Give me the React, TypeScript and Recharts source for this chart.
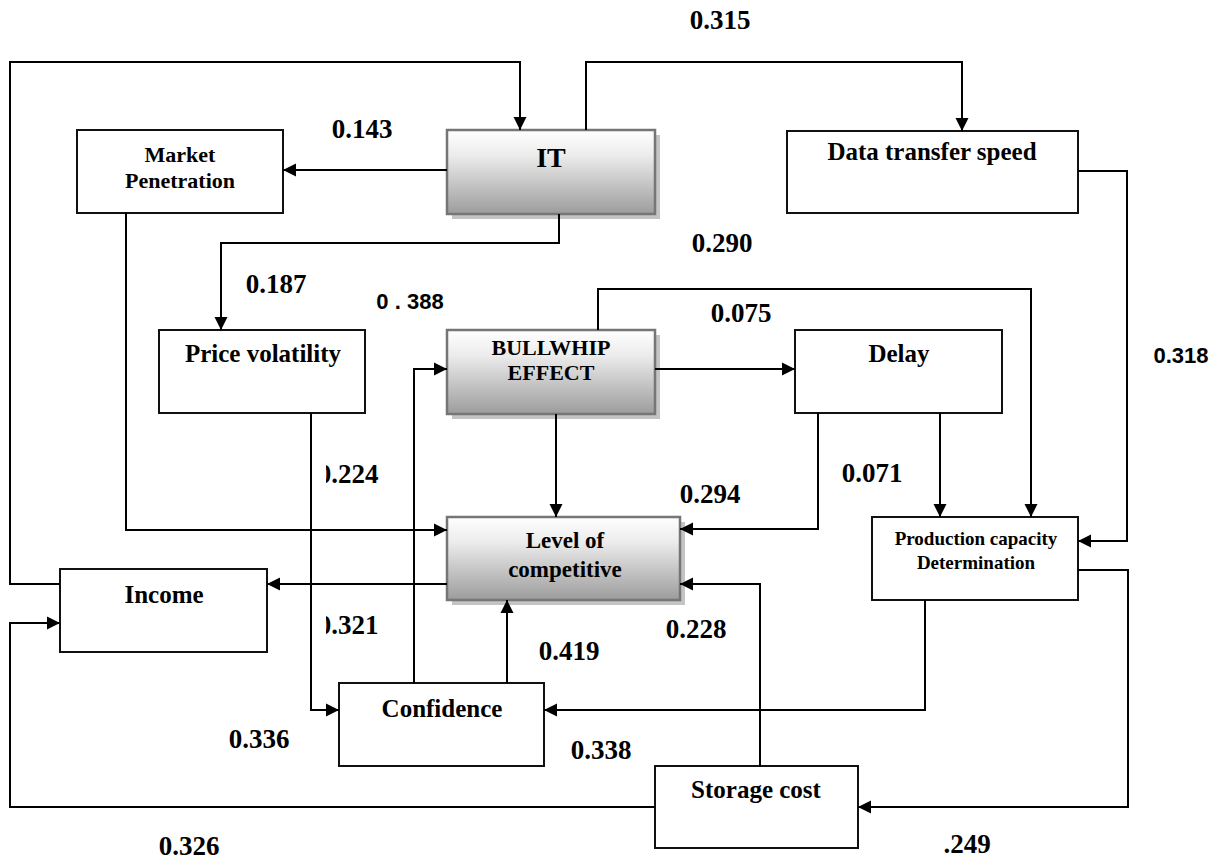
import React from "react";
import { ScatterChart, Scatter, XAxis, YAxis, ReferenceArea } from "recharts";

const W = 1223;
const H = 861;

// ---- data ----
const nodes = [
  "IT",
  "Market Penetration",
  "Data transfer speed",
  "Price volatility",
  "BULLWHIP EFFECT",
  "Delay",
  "Level of competitive",
  "Production capacity Determination",
  "Income",
  "Confidence",
  "Storage cost",
];

// how each node name is broken over lines inside its box
const nodeLines: string[][] = [
  ["IT"],
  ["Market", "Penetration"],
  ["Data transfer speed"],
  ["Price volatility"],
  ["BULLWHIP", "EFFECT"],
  ["Delay"],
  ["Level of", "competitive"],
  ["Production capacity", "Determination"],
  ["Income"],
  ["Confidence"],
  ["Storage cost"],
];

const highlighted = ["IT", "BULLWHIP EFFECT", "Level of competitive"];

const edges: [string, string][] = [
  ["Income", "IT"],
  ["IT", "Market Penetration"],
  ["IT", "Data transfer speed"],
  ["IT", "Price volatility"],
  ["Data transfer speed", "Production capacity Determination"],
  ["Market Penetration", "Level of competitive"],
  ["BULLWHIP EFFECT", "Level of competitive"],
  ["BULLWHIP EFFECT", "Delay"],
  ["BULLWHIP EFFECT", "Production capacity Determination"],
  ["Delay", "Production capacity Determination"],
  ["Delay", "Level of competitive"],
  ["Level of competitive", "Income"],
  ["Price volatility", "Confidence"],
  ["Confidence", "BULLWHIP EFFECT"],
  ["Confidence", "Level of competitive"],
  ["Production capacity Determination", "Confidence"],
  ["Storage cost", "Level of competitive"],
  ["Production capacity Determination", "Storage cost"],
  ["Storage cost", "Income"],
];

const coefficients = [
  "0.315", "0.143", "0.290", "0.187", "0 . 388", "0.075", "0.318", "0.224",
  "0.294", "0.071", "0.321", "0.419", "0.228", "0.336", "0.338", "0.326", ".249",
];

// ---- layout (diagram units = pixels) ----
const boxAt: Record<string, [number, number, number, number]> = {
  "IT": [447, 130, 655, 214],
  "Market Penetration": [77, 130, 283, 213],
  "Data transfer speed": [787, 131, 1078, 213],
  "Price volatility": [159, 330, 365, 413],
  "BULLWHIP EFFECT": [447, 330, 655, 414],
  "Delay": [795, 330, 1002, 413],
  "Level of competitive": [447, 517, 680, 600],
  "Production capacity Determination": [872, 517, 1078, 600],
  "Income": [60, 569, 267, 652],
  "Confidence": [339, 683, 544, 766],
  "Storage cost": [655, 766, 858, 848],
};

// [centre x, first baseline, line gap, font size]
const textAt: Record<string, [number, number, number, number]> = {
  "IT": [551, 167, 0, 28],
  "Market Penetration": [180, 162, 26, 22],
  "Data transfer speed": [932, 160, 0, 25],
  "Price volatility": [263, 362, 0, 25],
  "BULLWHIP EFFECT": [551, 355, 25, 22],
  "Delay": [899, 362, 0, 25],
  "Level of competitive": [565, 548, 29, 23],
  "Production capacity Determination": [976, 545, 24, 19],
  "Income": [164, 603, 0, 25],
  "Confidence": [442, 717, 0, 25],
  "Storage cost": [756, 798, 0, 25],
};

// connector routes, same order as edges; last point is the arrow tip
const routes: [number, number][][] = [
  [[60, 584], [10, 584], [10, 62], [520, 62], [520, 130]],
  [[447, 170], [283, 170]],
  [[586, 130], [586, 62], [962, 62], [962, 131]],
  [[559, 214], [559, 243], [221, 243], [221, 330]],
  [[1078, 171], [1127, 171], [1127, 541], [1078, 541]],
  [[126, 213], [126, 530], [447, 530]],
  [[556, 414], [556, 517]],
  [[655, 369], [795, 369]],
  [[598, 330], [598, 289], [1031, 289], [1031, 517]],
  [[940, 413], [940, 517]],
  [[818, 413], [818, 529], [680, 529]],
  [[447, 584], [267, 584]],
  [[311, 413], [311, 710], [339, 710]],
  [[414, 683], [414, 369], [447, 369]],
  [[507, 683], [507, 600]],
  [[925, 600], [925, 710], [544, 710]],
  [[760, 766], [760, 584], [680, 584]],
  [[1078, 570], [1128, 570], [1128, 807], [858, 807]],
  [[655, 807], [10, 807], [10, 623], [60, 623]],
];

// [centre x, baseline] for each coefficient, same order
const coefAt: [number, number][] = [
  [720, 29], [362, 138], [722, 252], [276, 293], [410, 309], [741, 322],
  [1181, 363], [348, 483], [710, 503], [872, 482], [348, 634], [569, 660],
  [696, 638], [259, 748], [601, 759], [189, 855], [967, 853],
];
const sansCoefs = ["0 . 388", "0.318"];
const clippedCoefs = ["0.224", "0.321"];

const SERIF = '"Liberation Serif", "Times New Roman", serif';
const SANS = '"Liberation Sans", Arial, sans-serif';

function routePoints(i: number) {
  const pts = routes[i];
  return pts.map(([x, y], k) => {
    const last = k === pts.length - 1;
    const [px, py] = last ? pts[k - 1] : [x, y];
    const len = Math.hypot(x - px, y - py) || 1;
    return { x, y, head: last, dx: (x - px) / len, dy: (y - py) / len };
  });
}

const ArrowHead = (p: any) => {
  const { cx, cy, payload } = p;
  if (!payload || !payload.head) return <g />;
  const L = 13;
  const Hw = 6.5;
  const bx = cx - payload.dx * L;
  const by = cy - payload.dy * L;
  const nx = -payload.dy;
  const ny = payload.dx;
  const pts = `${cx},${cy} ${bx + nx * Hw},${by + ny * Hw} ${bx - nx * Hw},${by - ny * Hw}`;
  return <polygon points={pts} fill="#000" />;
};

const TextMark = (p: any) => {
  const { cx, cy, payload } = p;
  if (!payload) return <g />;
  const t = (
    <text
      x={cx}
      y={cy}
      textAnchor="middle"
      fontFamily={payload.font}
      fontWeight="bold"
      fontSize={payload.size}
      fill="#000"
    >
      {payload.text}
    </text>
  );
  if (!payload.clip) return t;
  // the reference shows these two with the leading zero cut off
  const id = `clip-${payload.text.replace(/\W/g, "")}`;
  return (
    <g>
      <defs>
        <clipPath id={id}>
          <rect x={cx - 22} y={cy - 40} width={120} height={60} />
        </clipPath>
      </defs>
      <g clipPath={`url(#${id})`}>{t}</g>
    </g>
  );
};

const nodeText = nodes.flatMap((n, i) => {
  const [x, y, gap, size] = textAt[n];
  return nodeLines[i].map((line, k) => ({ x, y: y + k * gap, text: line, size, font: SERIF }));
});

const coefText = coefficients.map((c, i) => ({
  x: coefAt[i][0],
  y: coefAt[i][1],
  text: c,
  size: sansCoefs.includes(c) ? 22 : 27,
  font: sansCoefs.includes(c) ? SANS : SERIF,
  clip: clippedCoefs.includes(c),
}));

export default function App() {
  return (
    <div style={{ position: "absolute", left: 0, top: 0, width: W, height: H, background: "#fff" }}>
      <ScatterChart width={W} height={H} margin={{ top: 0, right: 0, bottom: 0, left: 0 }}>
        <defs>
          <linearGradient id="boxGrad" x1="0" y1="0" x2="0" y2="1">
            <stop offset="0%" stopColor="#ffffff" />
            <stop offset="30%" stopColor="#ececec" />
            <stop offset="100%" stopColor="#9c9c9c" />
          </linearGradient>
        </defs>
        <XAxis type="number" dataKey="x" domain={[0, W]} allowDataOverflow hide />
        <YAxis type="number" dataKey="y" domain={[0, H]} allowDataOverflow reversed hide />

        {nodes.map((n) => {
          const [x1, y1, x2, y2] = boxAt[n];
          const hi = highlighted.includes(n);
          return hi ? (
            <ReferenceArea
              key={`s-${n}`}
              x1={x1 + 5}
              x2={x2 + 5}
              y1={y1 + 5}
              y2={y2 + 5}
              fill="#c4c4c4"
              fillOpacity={1}
              stroke="none"
            />
          ) : null;
        })}
        {nodes.map((n) => {
          const [x1, y1, x2, y2] = boxAt[n];
          const hi = highlighted.includes(n);
          return (
            <ReferenceArea
              key={`b-${n}`}
              x1={x1}
              x2={x2}
              y1={y1}
              y2={y2}
              fill={hi ? "url(#boxGrad)" : "#fff"}
              fillOpacity={1}
              stroke={hi ? "#767676" : "#111"}
              strokeWidth={hi ? 2.5 : 2}
            />
          );
        })}

        {edges.map((e, i) => (
          <Scatter
            key={`e-${e[0]}-${e[1]}`}
            name={`${e[0]} -> ${e[1]}`}
            data={routePoints(i)}
            line={{ stroke: "#000", strokeWidth: 2 }}
            shape={ArrowHead}
            isAnimationActive={false}
            legendType="none"
          />
        ))}

        <Scatter data={nodeText} shape={TextMark} isAnimationActive={false} legendType="none" />
        <Scatter data={coefText} shape={TextMark} isAnimationActive={false} legendType="none" />
      </ScatterChart>
    </div>
  );
}
